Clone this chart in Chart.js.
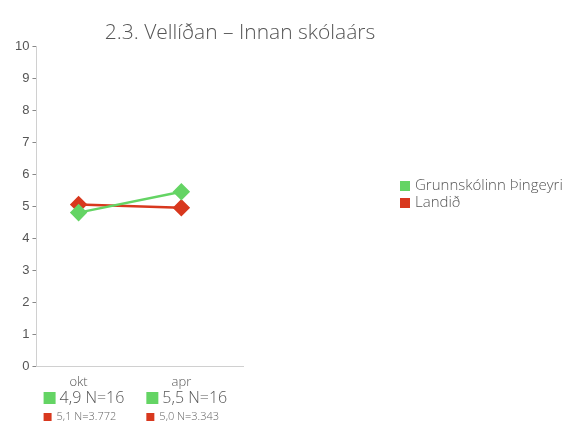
<!DOCTYPE html>
<html>
<head>
<meta charset="utf-8">
<script src="https://cdn.jsdelivr.net/npm/chart.js@4"></script>
<style>
  html, body { margin: 0; padding: 0; background: #fff; }
  #wrap { width: 569px; height: 425px; }
</style>
</head>
<body>
<div id="wrap"><canvas id="lineChart" width="569" height="425"></canvas></div>
<script>
// categories and values
const labels = ['okt', 'apr'];
const seriesNames = ['Grunnskólinn Þingeyri', 'Landið'];
const schoolValues = [4.8, 5.45];
const countryValues = [5.05, 4.95];
// little table under the x axis
const schoolTable = ['4,9 N=16', '5,5 N=16'];
const countryTable = ['5,1 N=3.772', '5,0 N=3.343'];
const title = '2.3. Vellíðan – Innan skólaárs';

const green = '#64d464';
const red = '#d8381e';

// category index as x so the axis can run a bit further on the right
function toPoints(values) {
    return values.map(function (v, i) { return { x: i, y: v }; });
}

// draws title, legend on the right and the table under the categories
const extras = {
    id: 'extras',
    afterDraw(chart) {
        const ctx = chart.ctx;
        const x = chart.scales.x;
        ctx.save();
        ctx.textBaseline = 'middle';

        ctx.textAlign = 'center';
        ctx.fillStyle = '#555';
        ctx.font = '300 21px "Open Sans"';
        ctx.fillText(title, 240, 33);

        ctx.textAlign = 'left';
        labels.forEach(function (lab, i) {
            const cx = x.getPixelForValue(i);
            // green row
            ctx.fillStyle = green;
            ctx.fillRect(cx - 35, 392, 12, 12);
            ctx.fillStyle = '#555';
            ctx.font = '300 16px "Open Sans"';
            ctx.fillText(schoolTable[i], cx - 19, 398);
            // red row
            ctx.fillStyle = red;
            ctx.fillRect(cx - 35, 413, 8, 8);
            ctx.fillStyle = '#666';
            ctx.font = '300 11px "Open Sans"';
            ctx.fillText(countryTable[i], cx - 22, 417);
        });
        // legend
        const colors = [green, red];
        ctx.font = '300 15px "Open Sans"';
        seriesNames.forEach(function (name, i) {
            const y = 186 + i * 17;
            ctx.fillStyle = colors[i];
            ctx.fillRect(400, y - 5, 10, 10);
            ctx.fillStyle = '#555';
            ctx.fillText(name, 415, y);
        });
        ctx.restore();
    }
};

const ctx = document.getElementById('lineChart').getContext('2d');
const lineChart = new Chart(ctx, {
    type: 'line',
    data: {
        datasets: [{
            label: seriesNames[0],
            data: toPoints(schoolValues),
            borderColor: green,
            backgroundColor: green,
            borderWidth: 2.5,
            pointStyle: 'rectRot',
            pointRadius: 7,
            pointHoverRadius: 7
        }, {
            label: seriesNames[1],
            data: toPoints(countryValues),
            borderColor: red,
            backgroundColor: red,
            borderWidth: 2.5,
            pointStyle: 'rectRot',
            pointRadius: 7,
            pointHoverRadius: 7
        }]
    },
    options: {
        responsive: false,
        animation: false,
        layout: {
            padding: { left: 12, right: 326, bottom: 27, top: 46 }
        },
        plugins: {
            legend: { display: false },
            tooltip: { enabled: false },
            title: { display: false }
        },
        scales: {
            x: {
                type: 'linear',
                min: -0.41,
                max: 1.6,
                afterBuildTicks: function (axis) {
                    axis.ticks = labels.map(function (l, i) { return { value: i }; });
                },
                grid: { display: false, drawTicks: false },
                border: { color: '#d0d0d0' },
                ticks: {
                    color: '#555',
                    font: { family: 'Open Sans', size: 13, weight: 300 },
                    padding: 8,
                    callback: function (v) { return labels[v]; }
                }
            },
            y: {
                min: 0,
                max: 10,
                ticks: {
                    stepSize: 1,
                    color: '#555',
                    font: { family: 'Liberation Sans', size: 13 },
                    padding: 3
                },
                grid: {
                    drawOnChartArea: false,
                    tickLength: 4,
                    color: '#888'
                },
                border: { color: '#d0d0d0' }
            }
        }
    },
    plugins: [extras]
});
</script>
</body>
</html>
